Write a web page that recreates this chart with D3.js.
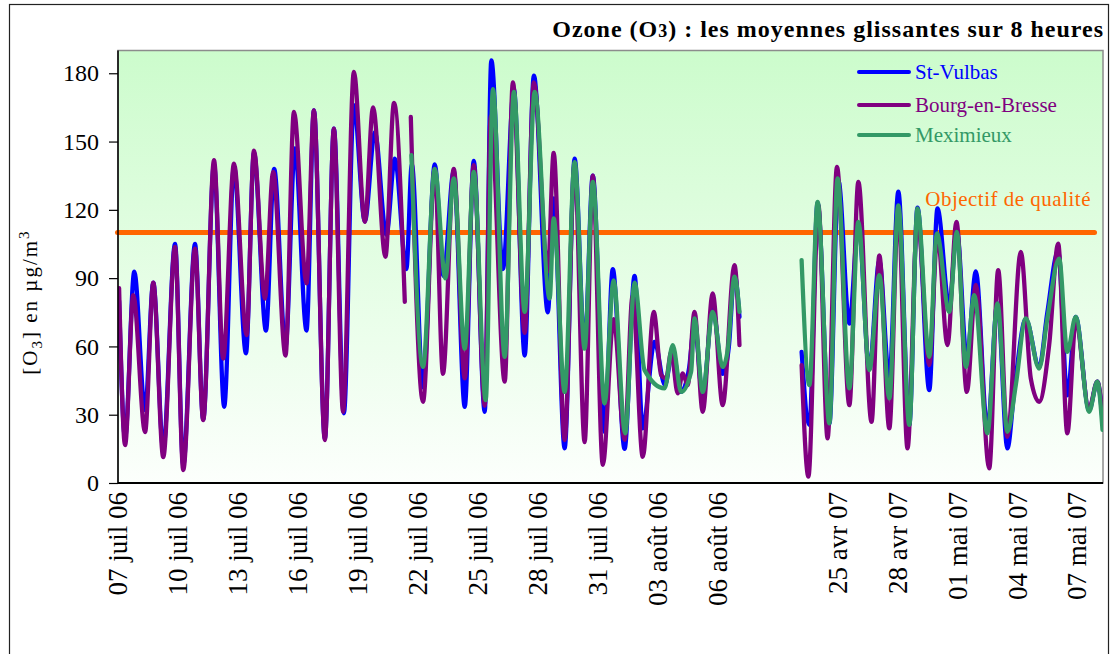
<!DOCTYPE html>
<head>
  <meta charset="utf-8">
  <script src="https://d3js.org/d3.v7.min.js"></script>
  <style>
    body { margin: 0; background: #fff; }
    svg { display: block; font-family: "Liberation Serif", "Times New Roman", serif; }
    .y-axis path { display: none; }
    .x-axis line { display: none; }
    .x-axis path { display: none; }
    .serie { fill: none; stroke-width: 4.3px; stroke-linejoin: round; stroke-linecap: round; }
  </style>
</head>
<body>
  <svg id="chart" width="1111" height="654"></svg>
  <script>
    // day position on the axis (0 = 07 juil 06, 2007 days follow after a gap), value in µg/m3
    var stVulbas2006 = [[0.08,80],[0.38,20],[0.84,92.8],[1.38,32],[1.79,88],[2.29,15],[2.88,105],[3.29,8],[3.88,105],
      [4.29,28],[4.83,140],[5.34,33.5],[5.83,139],[6.43,57],[6.83,145],[7.43,67],[7.84,138],[8.41,60],[8.88,147],
      [9.46,67],[9.83,163.7],[10.38,19.5],[10.83,155.7],[11.33,30.6],[11.83,166],[12.38,115],[12.88,154],[13.46,109],
      [13.88,142.5],[14.46,94],[14.73,140],[15.29,42],[15.88,140],[16.31,91],[16.83,137],[17.38,33.5],[17.83,141.5],
      [18.38,31.3],[18.71,185.7],[19.29,94],[19.84,173],[20.38,56],[20.84,179],[21.54,75],[21.83,125],[22.38,15.2],
      [22.88,142.5],[23.38,60],[23.79,135],[24.38,22.5],[24.79,94],[25.38,15],[25.88,91],[26.29,24],[26.88,62],
      [27.4,43],[27.79,58],[28.2,40],[28.6,50],[28.88,70],[29.29,38],[29.79,77],[30.29,48],[30.6,60],[30.88,92],[31.13,73]];
    var stVulbas2007 = [[34.24,57.6],[34.63,25.5],[35.04,123],[35.63,26],[36.08,133],[36.63,70],[37.08,114],[37.63,50],
      [38.13,97.7],[38.63,46],[39.08,128],[39.63,25.5],[40.04,121],[40.63,40.8],[41.04,120.6],[41.63,78],[42.01,111],
      [42.51,55],[42.96,93],[43.54,24],[44.04,79],[44.54,15.2],[44.9,42],[45.46,72],[46.13,51],[46.54,75],[47.08,102],
      [47.54,38.5],[47.96,73],[48.63,32],[49.04,44.5],[49.3,28]];

    var bourg2006a = [[0.08,85.6],[0.38,16.7],[0.79,82.5],[1.38,22.4],[1.79,88],[2.29,11.4],[2.88,103.7],[3.29,5.7],
      [3.88,103],[4.29,27.6],[4.83,141.8],[5.29,54.7],[5.83,140.3],[6.46,65],[6.83,146],[7.38,81],[7.79,136.7],
      [8.41,56],[8.83,163],[9.46,87.7],[9.83,163.7],[10.38,18.9],[10.83,155.7],[11.29,31.3],[11.83,180.6],
      [12.38,114.7],[12.79,165],[13.41,99.4],[13.84,167],[14.38,79.6]];
    var bourg2006b = [[14.68,160.8],[15.29,35.7],[15.88,138],[16.29,48],[16.83,138],[17.38,46],[17.83,139.6],[18.38,34],
      [18.68,161],[19.38,44.5],[19.79,176],[20.38,66],[20.84,176],[21.54,93],[21.83,145],[22.38,18.9],[22.88,140],
      [23.38,18],[23.79,135],[24.29,8],[24.83,72],[25.38,19],[25.78,82],[26.29,11.5],[26.84,75.2],[27.21,47.4],
      [27.46,46],[27.71,57.6],[28.04,39.4],[28.29,48.2],[28.54,43],[28.88,75.2],[29.29,31.3],[29.79,83.3],
      [30.29,34.2],[30.88,95.7],[31.13,60.6]];
    var bourg2007 = [[34.24,51.8],[34.58,2.8],[35.08,122],[35.54,19.6],[36.01,138.9],[36.63,34.2],[37.08,132.3],
      [37.74,26.9],[38.13,100],[38.63,24],[39.08,120.6],[39.54,15.2],[40.04,116.2],[40.63,51.8],[41.04,108.9],
      [41.54,60.6],[41.99,114.7],[42.51,40],[42.96,87],[43.63,6.4],[44.08,93.5],[44.54,20.3],[45.21,101.5],
      [45.71,46],[46.13,35.7],[46.63,60.6],[47.08,105.2],[47.54,21.8],[47.96,70.8],[48.63,32.8],[49.04,44.5],[49.3,29.9]];

    var meximieux2006 = [[14.71,144],[15.29,51],[15.88,138],[16.41,89.9],[16.83,133.8],[17.38,59],[17.83,136.7],
      [18.43,36.4],[18.79,173],[19.38,55.4],[19.84,171.8],[20.38,75.2],[20.88,171.8],[21.63,81],[21.83,116.2],
      [22.38,40],[22.88,141],[23.38,59],[23.79,132.3],[24.38,35],[24.83,89],[25.41,21.8],[25.88,88],[26.38,49.6],
      [27.38,41.6],[27.79,60.6],[28.21,40],[28.71,48.9],[28.88,72.3],[29.29,40],[29.79,75.2],[30.29,51],
      [30.54,58.4],[30.88,90.6],[31.13,75.2]];
    var meximieux2007 = [[34.24,97.9],[34.63,43],[35.04,123.5],[35.63,26.2],[36.04,133.8],[36.63,41.6],[37.08,114.7],
      [37.63,49.6],[38.13,91.3],[38.63,37.2],[39.08,122],[39.63,25.5],[40.04,120.6],[40.63,55.4],[41.01,109.6],
      [41.63,75.2],[42.01,110.3],[42.46,51],[42.88,82.5],[43.54,21.8],[44.04,78.9],[44.54,22.5],[44.96,43],
      [45.46,72.3],[46.13,50.3],[46.54,72.3],[47.13,98.6],[47.54,57.6],[47.96,73],[48.63,31.3],[49.04,44.5],[49.3,23.3]];

    var tickSlots = [0, 3, 6, 9, 12, 15, 18, 21, 24, 27, 30, 36, 39, 42, 45, 48];
    var tickLabels = ["07 juil 06", "10 juil 06", "13 juil 06", "16 juil 06", "19 juil 06", "22 juil 06",
      "25 juil 06", "28 juil 06", "31 juil 06", "03 août 06", "06 août 06",
      "25 avr 07", "28 avr 07", "01 mai 07", "04 mai 07", "07 mai 07"];
    var yTicks = [0, 30, 60, 90, 120, 150, 180];
    var objectif = 110;

    var series = [
      { name: "St-Vulbas", color: "#0000ff", parts: [stVulbas2006, stVulbas2007] },
      { name: "Bourg-en-Bresse", color: "#800080", parts: [bourg2006a, bourg2006b, bourg2007] },
      { name: "Meximieux", color: "#339966", parts: [meximieux2006, meximieux2007] }
    ];

    var svg = d3.select("#chart"),
      margin = { top: 50.5, right: 8, bottom: 171, left: 118 },
      width = 1111 - margin.left - margin.right,
      height = 654 - margin.top - margin.bottom;

    var x = d3.scaleLinear().domain([0, 49.3]).range([margin.left - 0.5, margin.left + width - 0.5]);
    var y = d3.scaleLinear().domain([0, 190]).range([margin.top + height, margin.top]);

    // outer frame
    svg.append("rect")
      .attr("x", 9.5).attr("y", 4.5)
      .attr("width", 1099).attr("height", 700)
      .attr("fill", "none").attr("stroke", "#222").attr("stroke-width", 1.2);

    var defs = svg.append("defs");
    var grad = defs.append("linearGradient").attr("id", "bg")
      .attr("x1", 0).attr("y1", 0).attr("x2", 0).attr("y2", 1);
    grad.append("stop").attr("offset", "0%").attr("stop-color", "#ccfccc");
    grad.append("stop").attr("offset", "100%").attr("stop-color", "#fcfffc");

    defs.append("clipPath").attr("id", "clip").append("rect")
      .attr("x", margin.left).attr("y", margin.top)
      .attr("width", width).attr("height", height);

    svg.append("rect")
      .attr("x", margin.left).attr("y", margin.top)
      .attr("width", width).attr("height", height)
      .attr("fill", "url(#bg)")
      .attr("stroke", "#8c8c8c").attr("stroke-width", 1.5);

    // quality objective line
    svg.append("line")
      .attr("x1", x(0)).attr("x2", x(48.9))
      .attr("y1", y(objectif)).attr("y2", y(objectif))
      .attr("stroke", "#ff6600").attr("stroke-width", 5).attr("stroke-linecap", "round");

    svg.append("text")
      .attr("x", 1091).attr("y", y(objectif) - 27)
      .attr("text-anchor", "end")
      .attr("fill", "#ff6600")
      .attr("font-size", 21)
      .style("letter-spacing", "0.5px")
      .text("Objectif de qualité");

    var line = d3.line()
      .curve(d3.curveMonotoneX)
      .x(d => x(d[0]))
      .y(d => y(d[1]));

    var plot = svg.append("g").attr("clip-path", "url(#clip)");
    series.forEach(function (s) {
      plot.selectAll(null)
        .data(s.parts)
        .join("path")
        .attr("class", "serie")
        .attr("stroke", s.color)
        .attr("d", line);
    });

    // axes
    svg.append("g")
      .attr("class", "y-axis")
      .attr("transform", "translate(" + margin.left + ",0)")
      .call(d3.axisLeft(y).tickValues(yTicks).tickSize(9).tickPadding(10))
      .call(g => g.selectAll("line").attr("stroke", "#000").attr("stroke-width", 1.2))
      .call(g => g.selectAll("text")
        .attr("font-family", "Liberation Serif, serif")
        .attr("font-size", 24).attr("fill", "#000"));

    svg.append("line")
      .attr("x1", margin.left).attr("x2", margin.left)
      .attr("y1", margin.top).attr("y2", margin.top + height)
      .attr("stroke", "#000").attr("stroke-width", 1.5);
    svg.append("line")
      .attr("x1", margin.left).attr("x2", margin.left + width)
      .attr("y1", margin.top + height).attr("y2", margin.top + height)
      .attr("stroke", "#000").attr("stroke-width", 1.8);

    svg.append("g")
      .attr("class", "x-axis")
      .attr("transform", "translate(0," + (margin.top + height) + ")")
      .call(d3.axisBottom(x).tickValues(tickSlots).tickFormat((d, i) => tickLabels[i]))
      .call(g => g.selectAll("text")
        .attr("font-family", "Liberation Serif, serif")
        .attr("font-size", 27).attr("fill", "#000")
        .attr("text-anchor", "end")
        .attr("transform", "rotate(-90)")
        .attr("x", -9).attr("y", 0).attr("dy", "0.35em"));

    // legend
    var legend = svg.append("g").selectAll("g")
      .data(series)
      .join("g")
      .attr("transform", (d, i) => "translate(859," + [72, 105, 135][i] + ")");
    legend.append("line")
      .attr("x1", 0).attr("x2", 50)
      .attr("stroke", d => d.color).attr("stroke-width", 4).attr("stroke-linecap", "round");
    legend.append("text")
      .attr("x", 56).attr("dy", "0.35em")
      .attr("font-size", 21)
      .attr("fill", d => d.color)
      .text(d => d.name);

    // title
    var title = svg.append("text")
      .attr("x", 1104).attr("y", 37)
      .attr("text-anchor", "end")
      .attr("font-size", 24).attr("font-weight", "bold")
      .style("letter-spacing", "1px");
    title.append("tspan").text("Ozone (O");
    title.append("tspan").attr("font-size", 18).text("3");
    title.append("tspan").text(") : les moyennes glissantes sur 8 heures");

    // y axis title
    var ylab = svg.append("text")
      .attr("transform", "translate(37,302) rotate(-90)")
      .attr("text-anchor", "middle")
      .attr("font-size", 21)
      .style("letter-spacing", "2px");
    ylab.append("tspan").text("[O");
    ylab.append("tspan").attr("font-size", 15).attr("dy", 5).text("3");
    ylab.append("tspan").attr("dy", -5).text("] en µg/m");
    ylab.append("tspan").attr("font-size", 15).attr("dy", -8).text("3");
  </script>
</body>
